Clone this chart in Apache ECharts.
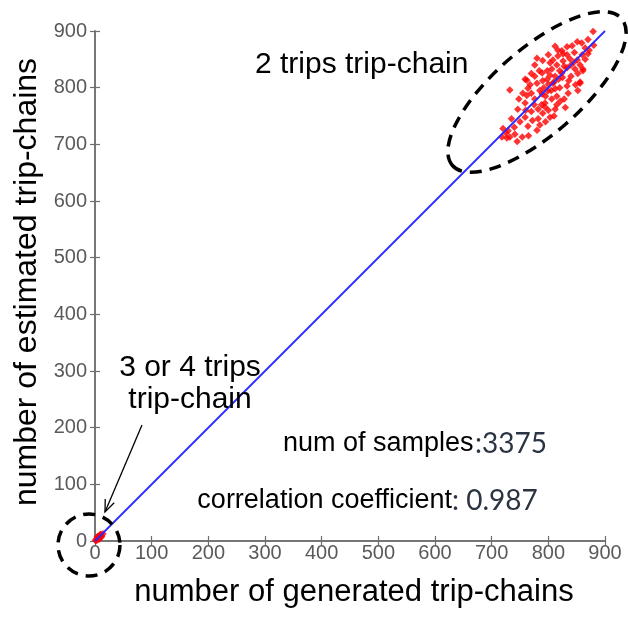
<!DOCTYPE html>
<html>
<head>
<meta charset="utf-8">
<script src="https://cdn.jsdelivr.net/npm/echarts@6/dist/echarts.min.js"></script>
<style>html,body{margin:0;padding:0;background:#fff;}#c{width:628px;height:619px;}</style>
</head>
<body>
<div id="c"></div>
<script>
// ---- data ----
const axisTicks = [0, 100, 200, 300, 400, 500, 600, 700, 800, 900];
// cluster of 2-trip chains: [generated, estimated]
const twoTripPoints = [
  [879,899],[859,879],[851,881],[842,874],[865,870],[824,865],[833,858],[817,856],[808,849],[826,847],
  [803,844],[851,849],[856,840],[776,840],[815,840],[732,796],[759,815],[764,799],[776,820],[789,826],
  [798,815],[806,833],[824,826],[833,835],[847,833],[861,833],[856,808],[833,803],[812,798],[799,794],
  [789,789],[776,780],[806,780],[821,776],[759,773],[794,773],[746,762],[782,762],[794,766],[812,762],
  [759,748],[782,745],[803,748],[764,732],[729,724],[718,713],[732,713],[754,713],[741,718],[861,830],
  [856,810],[727,711],[785,734],[762,813],[803,822],[817,866],[833,872],[870,885],[880,875],[846,862],
  [838,851],[828,838],[820,830],[812,820],[800,806],[792,800],[785,795],[770,790],[768,805],[780,808],
  [790,812],[810,810],[818,815],[825,818],[840,820],[845,845],[865,850],[870,860],[835,790],[828,780],
  [815,785],[800,760],[790,755],[770,758],[775,770],[750,740],[740,730],[725,720],[745,705],[765,715],
  [780,725],[795,740],[810,750],[820,800],[836,812],[852,825],[860,858],[872,866],[840,840],[798,830],
  [784,830],[770,825],[755,790],[748,780],[762,786],[805,795],[795,785],[815,770],[830,765],[852,795],
  [848,805],[760,760],[735,745],[720,728],[772,742],[788,770],[808,808],[826,860],[812,873],[800,858],
  [790,848],[780,852]
];
// 3 or 4 trip chains near the origin
const multiTripPoints = [
  [2,3],[5,8],[8,5],[10,12],[3,1],[12,9],[6,6],[14,13],[9,11],[4,7],[1,1],[7,3],[11,7]
];
const identityLine = [[0,0],[900,900]];
const sampleCount = '3375';
const corrCoef = '0.987';

const FONT = "'Liberation Sans', Arial, Helvetica, sans-serif";
const chart = echarts.init(document.getElementById('c'), null, {renderer:'canvas'});

const axisCommon = {
  type: 'value', min: 0, max: 900, interval: 100,
  axisLine: {show: true, lineStyle: {color: '#6e6e6e', width: 1.5}},
  axisTick: {show: true, inside: true, length: 5, lineStyle: {color: '#6e6e6e', width: 1.2}},
  splitLine: {show: false}
};

// arrow head geometry (annotation)
const tip = [105, 512], tail = [142, 425];
const dx = tail[0]-tip[0], dy = tail[1]-tip[1], L = Math.hypot(dx,dy);
const ux = dx/L, uy = dy/L, hl = 13, ha = 22*Math.PI/180;
function rot(x,y,a){return [x*Math.cos(a)-y*Math.sin(a), x*Math.sin(a)+y*Math.cos(a)];}
const h1 = rot(ux,uy,ha), h2 = rot(ux,uy,-ha);

const dashStyle = {fill: 'none', stroke: '#000', lineWidth: 3.5, lineDash: [12, 8]};

chart.setOption({
  animation: false,
  backgroundColor: '#fff',
  grid: {left: 95, right: 23, top: 31, bottom: 78, containLabel: false},
  xAxis: [
    Object.assign({}, axisCommon, {position: 'bottom',
      axisLabel: {show: true, color: '#5a5a5a', fontFamily: FONT, fontSize: 20, margin: 2,
        formatter: v => axisTicks.includes(v) ? String(v) : ''}}),
    Object.assign({}, axisCommon, {position: 'top', axisLabel: {show: false}})
  ],
  yAxis: [
    Object.assign({}, axisCommon, {position: 'left',
      axisLabel: {show: true, color: '#5a5a5a', fontFamily: FONT, fontSize: 20, margin: 8,
        padding: [0,0,10,0], formatter: v => axisTicks.includes(v) ? String(v) : ''}}),
    Object.assign({}, axisCommon, {position: 'right', axisLabel: {show: false}})
  ],
  series: [
    {type: 'scatter', data: multiTripPoints, symbol: 'diamond', symbolSize: 7.5,
      itemStyle: {color: '#ff0000'}},
    {type: 'scatter', data: twoTripPoints, symbol: 'diamond', symbolSize: 7.5,
      itemStyle: {color: '#ff0000'}},
    {type: 'line', data: identityLine, showSymbol: false, symbol: 'none',
      lineStyle: {color: '#2a2aff', width: 1.8}, z: 3}
  ],
  graphic: [
    {type: 'ellipse', x: 537, y: 92, rotation: 41*Math.PI/180, shape: {cx: 0, cy: 0, rx: 112, ry: 43}, style: dashStyle, z: 10},
    {type: 'circle', shape: {cx: 89, cy: 545, r: 31}, style: dashStyle, z: 10},
    {type: 'line', shape: {x1: tail[0], y1: tail[1], x2: tip[0], y2: tip[1]}, style: {stroke: '#000', lineWidth: 1.3}, z: 10},
    {type: 'polyline', shape: {points: [[tip[0]+h1[0]*hl, tip[1]+h1[1]*hl], tip, [tip[0]+h2[0]*hl, tip[1]+h2[1]*hl]]},
      style: {fill: 'none', stroke: '#000', lineWidth: 1.3}, z: 10},
    {type: 'text', x: 255, y: 65, style: {text: '2 trips trip-chain', font: '30px ' + FONT, fill: '#000', textAlign: 'left', textVerticalAlign: 'middle'}, z: 10},
    {type: 'text', x: 190, y: 368, style: {text: '3 or 4 trips', font: '30px ' + FONT, fill: '#000', textAlign: 'center', textVerticalAlign: 'middle'}, z: 10},
    {type: 'text', x: 190, y: 400, style: {text: 'trip-chain', font: '30px ' + FONT, fill: '#000', textAlign: 'center', textVerticalAlign: 'middle'}, z: 10},
    {type: 'text', x: 283, y: 444, style: {text: 'num of samples', font: '27px ' + FONT, fill: '#000', textAlign: 'left', textVerticalAlign: 'middle'}, z: 10},
    {type: 'text', x: 475, y: 444, style: {text: ':' + sampleCount, font: '28px Lato, ' + FONT, fill: '#2b3442', textAlign: 'left', textVerticalAlign: 'middle'}, z: 10},
    {type: 'text', x: 452, y: 501, style: {text: 'correlation coefficient', font: '27px ' + FONT, fill: '#000', textAlign: 'right', textVerticalAlign: 'middle'}, z: 10},
    {type: 'text', x: 452, y: 501, style: {text: ': ' + corrCoef, font: '28px Lato, ' + FONT, fill: '#2b3442', textAlign: 'left', textVerticalAlign: 'middle'}, z: 10},
    {type: 'text', x: 354, y: 592, style: {text: 'number of generated trip-chains', font: '31px ' + FONT, fill: '#000', textAlign: 'center', textVerticalAlign: 'middle'}, z: 10},
    {type: 'text', x: 27, y: 282, rotation: Math.PI/2, style: {text: 'number of estimated trip-chains', font: '32px ' + FONT, fill: '#000', textAlign: 'center', textVerticalAlign: 'middle'}, z: 10}
  ]
});
</script>
</body>
</html>
